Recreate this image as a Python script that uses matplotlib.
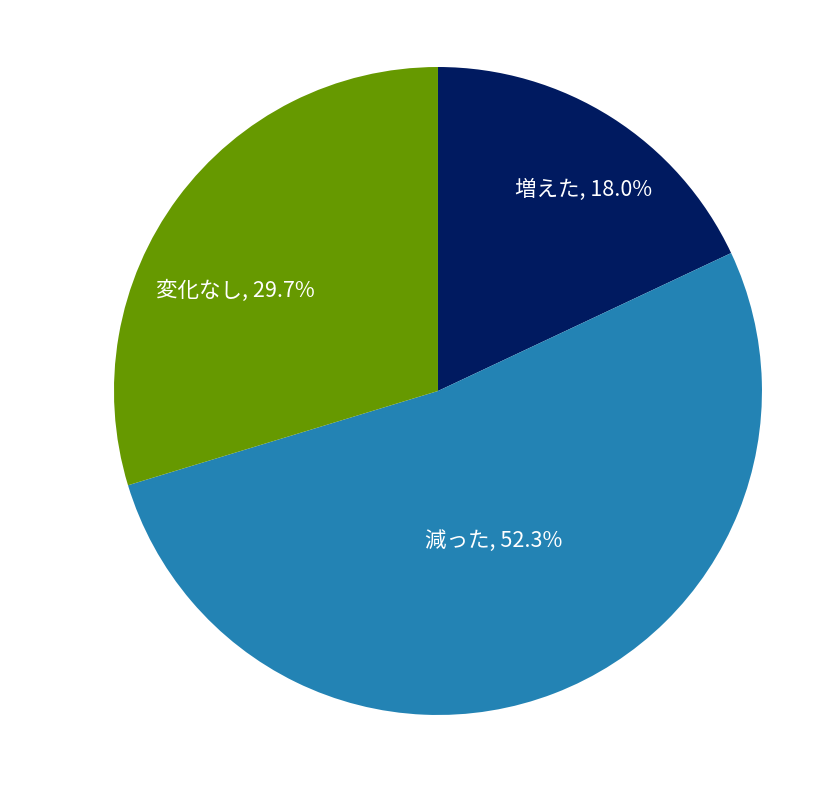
import matplotlib
matplotlib.use("Agg")
import matplotlib.pyplot as plt

plt.rcParams['font.family'] = ['Noto Sans CJK JP', 'DejaVu Sans']

labels = ['増えた', '減った', '変化なし']
values = [18.0, 52.3, 29.7]
colors = ['#001A60', '#2383B4', '#669900']
# label centres in axes fraction
label_pos = [(0.725, 0.810), (0.586, 0.268), (0.188, 0.655)]

fig = plt.figure(figsize=(8.4, 7.89), dpi=100)
ax = fig.add_axes([0.1357, 0.0938, 0.7714, 0.8213])

ax.pie(values, colors=colors, startangle=90, counterclock=False,
       wedgeprops=dict(linewidth=0))
ax.set_xlim(-1, 1)
ax.set_ylim(-1, 1)
ax.set_aspect('equal')

for lab, val, (x, y) in zip(labels, values, label_pos):
    ax.text(x, y, f'{lab}, {val:.1f}%', transform=ax.transAxes,
            ha='center', va='center', color='white', fontsize=15.5)

fig.savefig('out.png', dpi=100)
